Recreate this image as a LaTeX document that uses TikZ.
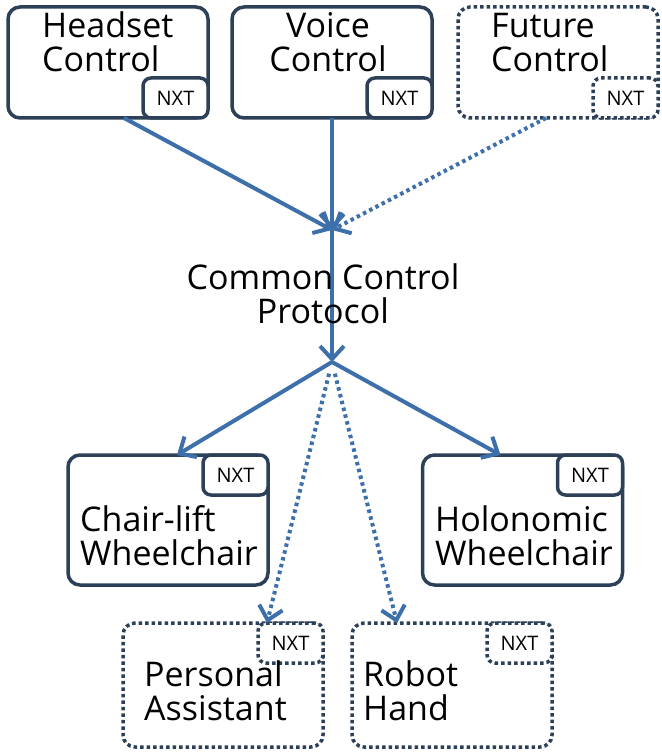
\documentclass[tikz,border=0pt]{standalone}
\usepackage{fontspec}
\setmainfont{Open Sans}
\usetikzlibrary{arrows.meta}
\definecolor{edge}{HTML}{2C4058}
\definecolor{flow}{HTML}{3D6FAB}
\begin{document}
\begin{tikzpicture}[x=1pt,y=-1pt,
    unit/.style={draw=edge, line width=3.5pt, rounded corners=12pt, inner sep=0pt, outer sep=0pt, minimum width=200pt},
    plan/.style={unit, dash pattern=on 3.5pt off 3pt},
    nxt/.style={draw=edge, fill=white, line width=3.5pt, rounded corners=8pt, inner sep=0pt, outer sep=0pt,
      minimum width=65pt, minimum height=40pt, font=\fontsize{20}{22}\selectfont},
    nxtplan/.style={nxt, dash pattern=on 3.5pt off 3pt},
    word/.style={inner sep=0pt, align=left, font=\fontsize{34}{34}\selectfont},
    link/.style={draw=flow, line width=4pt, -{Straight Barb[length=13pt,width=24pt]}},
    maybe/.style={link, dash pattern=on 3.5pt off 3.5pt}]
  \useasboundingbox (0,0) rectangle (661,754);

  % controllers
  \node[unit, minimum height=111pt] (headset) at (108,62.5) {};
  \node[unit, minimum height=111pt] (voice) at (332,62.5) {};
  \node[plan, minimum height=111pt] (future) at (558,62.5) {};
  \node[nxt, anchor=south east] (headset-nxt) at (headset.south east) {NXT};
  \node[nxt, anchor=south east] (voice-nxt) at (voice.south east) {NXT};
  \node[nxtplan, anchor=south east] (future-nxt) at (future.south east) {NXT};
  \node[word, anchor=base west] (headset-txt) at (42,72) {Headset\\Control};
  \node[word, align=center, anchor=base] (voice-txt) at (328,72) {Voice\\Control};
  \node[word, anchor=base west] (future-txt) at (491,72) {Future\\Control};

  % devices
  \node[unit, minimum height=130pt] (chair) at (168,520) {};
  \node[unit, minimum height=130pt] (holo) at (522.5,520) {};
  \node[plan, minimum height=124pt] (assist) at (223,685) {};
  \node[plan, minimum height=124pt] (hand) at (452,685) {};
  \node[nxt, anchor=north east] (chair-nxt) at (chair.north east) {NXT};
  \node[nxt, anchor=north east] (holo-nxt) at (holo.north east) {NXT};
  \node[nxtplan, anchor=north east] (assist-nxt) at (assist.north east) {NXT};
  \node[nxtplan, anchor=north east] (hand-nxt) at (hand.north east) {NXT};
  \node[word, anchor=base west] (chair-txt) at (80,565) {Chair-lift\\Wheelchair};
  \node[word, anchor=base west] (holo-txt) at (435,565) {Holonomic\\Wheelchair};
  \node[word, anchor=base west] (assist-txt) at (144,720) {Personal\\Assistant};
  \node[word, anchor=base west] (hand-txt) at (363,720) {Robot\\Hand};

  % protocol
  \coordinate (join) at (332,230);
  \coordinate (split) at (332,362);
  \draw[link] (join) -- (split);
  \node[word, align=center, anchor=base] (protocol) at (323,323) {Common Control\\Protocol};

  \draw[link] ([xshift=16pt]headset.south) -- (join);
  \draw[link] (voice.south) -- (join);
  \draw[maybe] ([xshift=-12pt]future.south) -- (join);
  \draw[link] (split) -- ([xshift=9pt]chair.north);
  \draw[link] (split) -- ([xshift=-22pt]holo.north);
  \draw[maybe, shorten <=12pt] (split) -- ([xshift=44pt]assist.north);
  \draw[maybe, shorten <=12pt] (split) -- ([xshift=-55pt]hand.north);
\end{tikzpicture}
\end{document}
